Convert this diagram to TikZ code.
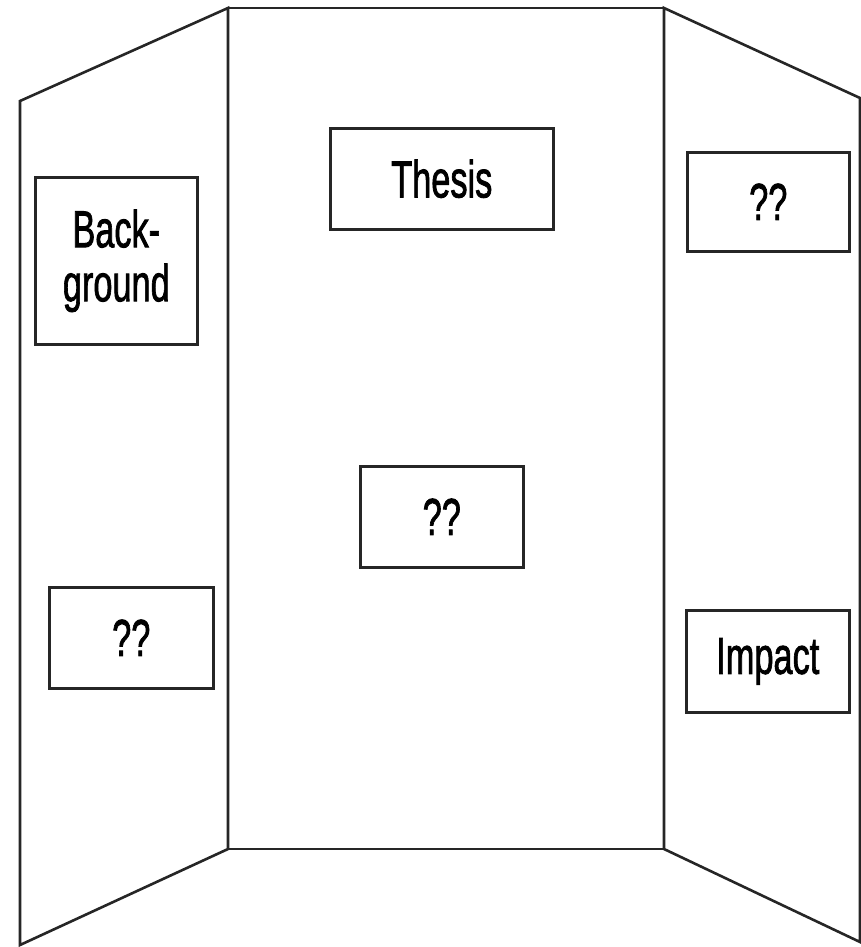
\documentclass[tikz,border=0pt]{standalone}
\usepackage{fontspec}
\setmainfont{Liberation Sans}
\newfontfamily\cardfont[FakeBold=1.8]{Liberation Sans}
\usepackage{graphicx}
\begin{document}
\begin{tikzpicture}[x=1pt,y=-1pt,line join=miter,
  panel/.style={draw=black!85,line width=2.6pt},
  card/.style={draw=black!85,line width=2.6pt,fill=white,inner sep=0pt,
    align=center,anchor=north west,font=\cardfont\fontsize{52}{54}\selectfont}]
\useasboundingbox (0,0) rectangle (861,947);
% folding board: left wing, centre panel, right wing
\draw[panel] (20,101) -- (228,8) -- (228,849) -- (20,945) -- cycle;
\draw[panel] (228,8) rectangle (664,849);
\draw[panel] (664,8) -- (860,98) -- (860,942) -- (664,849) -- cycle;
% cards pinned to the board
\newcommand{\sq}[1]{\scalebox{0.66}[1]{#1}}
\node[card,minimum width=162pt,minimum height=167pt] (bg) at (34,176)
  {\sq{Back-}\\\sq{ground}};
\node[card,minimum width=164pt,minimum height=101pt] (q1) at (48,586) {\sq{??}};
\node[card,minimum width=223pt,minimum height=101pt] (th) at (329,127) {\sq{Thesis}};
\node[card,minimum width=163pt,minimum height=101pt] (q2) at (359,465) {\sq{??}};
\node[card,minimum width=162pt,minimum height=99pt] (q3) at (686,151) {\sq{??}};
\node[card,minimum width=163pt,minimum height=102pt] (im) at (685,609) {\sq{Impact}};
\end{tikzpicture}
\end{document}
